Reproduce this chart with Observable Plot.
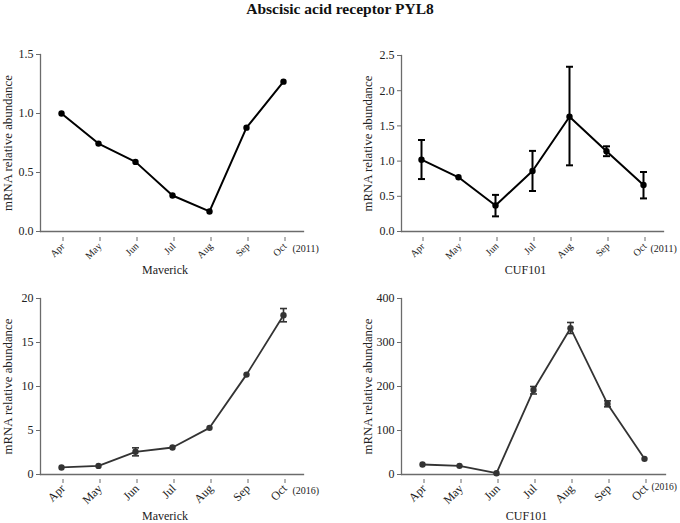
<!DOCTYPE html>
<html>
<head>
<meta charset="utf-8">
<script src="https://cdn.jsdelivr.net/npm/d3@7"></script>
<script src="https://cdn.jsdelivr.net/npm/@observablehq/plot@0.6"></script>
<style>
  html, body { margin: 0; padding: 0; background: #fff; }
  #wrap { position: relative; width: 680px; height: 523px; font-family: "Liberation Serif", "Times New Roman", serif; }
  #wrap svg { font-family: "Liberation Serif", "Times New Roman", serif !important; background: transparent !important; overflow: visible; }
  #title { position: absolute; left: 0; top: 0; width: 680px; text-align: center; font-weight: bold; font-size: 15.5px; line-height: 17px; color: #111; }
  .panel { position: absolute; }
</style>
</head>
<body>
<div id="wrap">
  <div id="title">Abscisic acid receptor PYL8</div>
  <div class="panel" id="p1" style="left:0;top:0"></div>
  <div class="panel" id="p2" style="left:340px;top:0"></div>
  <div class="panel" id="p3" style="left:0;top:275px"></div>
  <div class="panel" id="p4" style="left:340px;top:275px"></div>
</div>
<script>
// ---- data ----
const months = ["Apr", "May", "Jun", "Jul", "Aug", "Sep", "Oct"];

const maverick2011 = [1.00, 0.745, 0.59, 0.305, 0.17, 0.88, 1.27];
const maverick2011Lo = [null, null, null, null, null, null, null];
const maverick2011Hi = [null, null, null, null, null, null, null];

const cuf2011 = [1.02, 0.77, 0.37, 0.86, 1.63, 1.14, 0.66];
const cuf2011Lo = [0.745, null, 0.215, 0.575, 0.94, 1.07, 0.47];
const cuf2011Hi = [1.30, null, 0.52, 1.145, 2.34, 1.21, 0.845];

const maverick2016 = [0.8, 0.98, 2.58, 3.07, 5.3, 11.35, 18.1];
const maverick2016Lo = [null, null, 2.12, null, null, null, 17.35];
const maverick2016Hi = [null, null, 3.03, null, null, null, 18.86];

const cuf2016 = [22.7, 19.7, 3, 192, 332.5, 160.5, 35.6];
const cuf2016Lo = [null, null, null, 183, 320.5, 153.8, null];
const cuf2016Hi = [null, null, null, 200, 345.5, 167.4, null];

const ticks1 = [0, 0.5, 1.0, 1.5];
const ticks2 = [0, 0.5, 1.0, 1.5, 2.0, 2.5];
const ticks3 = [0, 5, 10, 15, 20];
const ticks4 = [0, 100, 200, 300, 400];

const yLabel = "mRNA relative abundance";

// horizontal cap symbol for error bars
const capSymbol = {
  draw(context, size) {
    const w = Math.sqrt(size / Math.PI);
    context.moveTo(-w, 0);
    context.lineTo(w, 0);
  }
};

const FONT = "'Liberation Serif', 'Times New Roman', serif";

// ---- drawing ----
function panel(cfg) {
  const rows = months.map((m, i) => ({m, v: cfg.values[i], lo: cfg.lo[i], hi: cfg.hi[i]}));
  const err = rows.filter(d => d.lo != null && d.hi != null);
  const axisColor = "#6b6b6b";
  return Plot.plot({
    width: 340,
    height: cfg.height,
    marginLeft: cfg.ml,
    marginRight: cfg.mr,
    marginTop: cfg.mt,
    marginBottom: cfg.mb,
    style: {fontFamily: FONT, background: "transparent", color: "#222", overflow: "visible"},
    x: {type: "point", domain: months, padding: 0.5, label: null},
    y: {domain: cfg.domain, label: null},
    marks: [
      Plot.frame({anchor: "left", stroke: axisColor, strokeWidth: 1.3}),
      Plot.frame({anchor: "bottom", stroke: axisColor, strokeWidth: 1.3}),
      Plot.axisY({ticks: cfg.ticks, tickFormat: cfg.fmt, tickSize: 4, tickPadding: 3, fontSize: 12, fontFamily: FONT, stroke: axisColor, fill: "#222", label: null}),
      Plot.axisX({tickRotate: -45, tickSize: 4, tickPadding: 3, dx: cfg.xTickDx, dy: cfg.xTickDy, fontSize: cfg.xFont, fontFamily: FONT, stroke: axisColor, fill: "#222", label: null}),
      Plot.ruleX(err, {x: "m", y1: "lo", y2: "hi", stroke: cfg.color, strokeWidth: cfg.errWidth}),
      Plot.dot(err, {x: "m", y: "lo", symbol: capSymbol, r: 3.5, fill: "none", stroke: cfg.color, strokeWidth: cfg.errWidth}),
      Plot.dot(err, {x: "m", y: "hi", symbol: capSymbol, r: 3.5, fill: "none", stroke: cfg.color, strokeWidth: cfg.errWidth}),
      Plot.line(rows, {x: "m", y: "v", stroke: cfg.color, strokeWidth: cfg.lineWidth}),
      Plot.dot(rows, {x: "m", y: "v", r: 3.2, fill: cfg.color, stroke: "none"}),
      Plot.text([yLabel], {frameAnchor: "left", dx: -cfg.yLabelOff, rotate: -90, textAnchor: "middle", lineAnchor: "middle", fontSize: 12.8, fontFamily: FONT, fill: "#222"}),
      Plot.text([cfg.label], {frameAnchor: "bottom", dy: cfg.xLabelDy, dx: -7, textAnchor: "middle", lineAnchor: "middle", fontSize: 12, fontFamily: FONT, fill: "#222"}),
      Plot.text([{m: "Oct", t: cfg.year}], {x: "m", text: "t", frameAnchor: "bottom", dy: cfg.yearDy, dx: cfg.yearDx, textAnchor: "start", lineAnchor: "middle", fontSize: cfg.yearFont, fontFamily: FONT, fill: "#222"})
    ]
  });
}

document.getElementById("p1").append(panel({
  values: maverick2011, lo: maverick2011Lo, hi: maverick2011Hi,
  domain: [0, 1.5], ticks: ticks1, fmt: d3.format(".1f"),
  height: 275, ml: 40, mr: 37, mt: 54, mb: 44,
  color: "#000", lineWidth: 2, errWidth: 2, xFont: 10, xTickDx: 1.5, xTickDy: 6,
  label: "Maverick", year: "(2011)", yearDx: 9, yearDy: 17, yearFont: 10, xLabelDy: 39, yLabelOff: 33
}));
document.getElementById("p2").append(panel({
  values: cuf2011, lo: cuf2011Lo, hi: cuf2011Hi,
  domain: [0, 2.5], ticks: ticks2, fmt: d3.format(".1f"),
  height: 275, ml: 61, mr: 17, mt: 55, mb: 44,
  color: "#000", lineWidth: 2, errWidth: 2, xFont: 10, xTickDx: 1.5, xTickDy: 6,
  label: "CUF101", year: "(2011)", yearDx: 7, yearDy: 17, yearFont: 10, xLabelDy: 39, yLabelOff: 34
}));
document.getElementById("p3").append(panel({
  values: maverick2016, lo: maverick2016Lo, hi: maverick2016Hi,
  domain: [0, 20], ticks: ticks3, fmt: d3.format("d"),
  height: 248, ml: 40, mr: 37, mt: 23, mb: 49,
  color: "#333", lineWidth: 1.8, errWidth: 1.6, xFont: 12, xTickDx: 1.5, xTickDy: 5,
  label: "Maverick", year: "(2016)", yearDx: 9, yearDy: 16, yearFont: 10, xLabelDy: 42, yLabelOff: 33
}));
document.getElementById("p4").append(panel({
  values: cuf2016, lo: cuf2016Lo, hi: cuf2016Hi,
  domain: [0, 400], ticks: ticks4, fmt: d3.format("d"),
  height: 248, ml: 61, mr: 15, mt: 23, mb: 49,
  color: "#333", lineWidth: 1.8, errWidth: 1.6, xFont: 12, xTickDx: 1.5, xTickDy: 5,
  label: "CUF101", year: "(2016)", yearDx: 7, yearDy: 12, yearFont: 9.5, xLabelDy: 42, yLabelOff: 34
}));
</script>
</body>
</html>
